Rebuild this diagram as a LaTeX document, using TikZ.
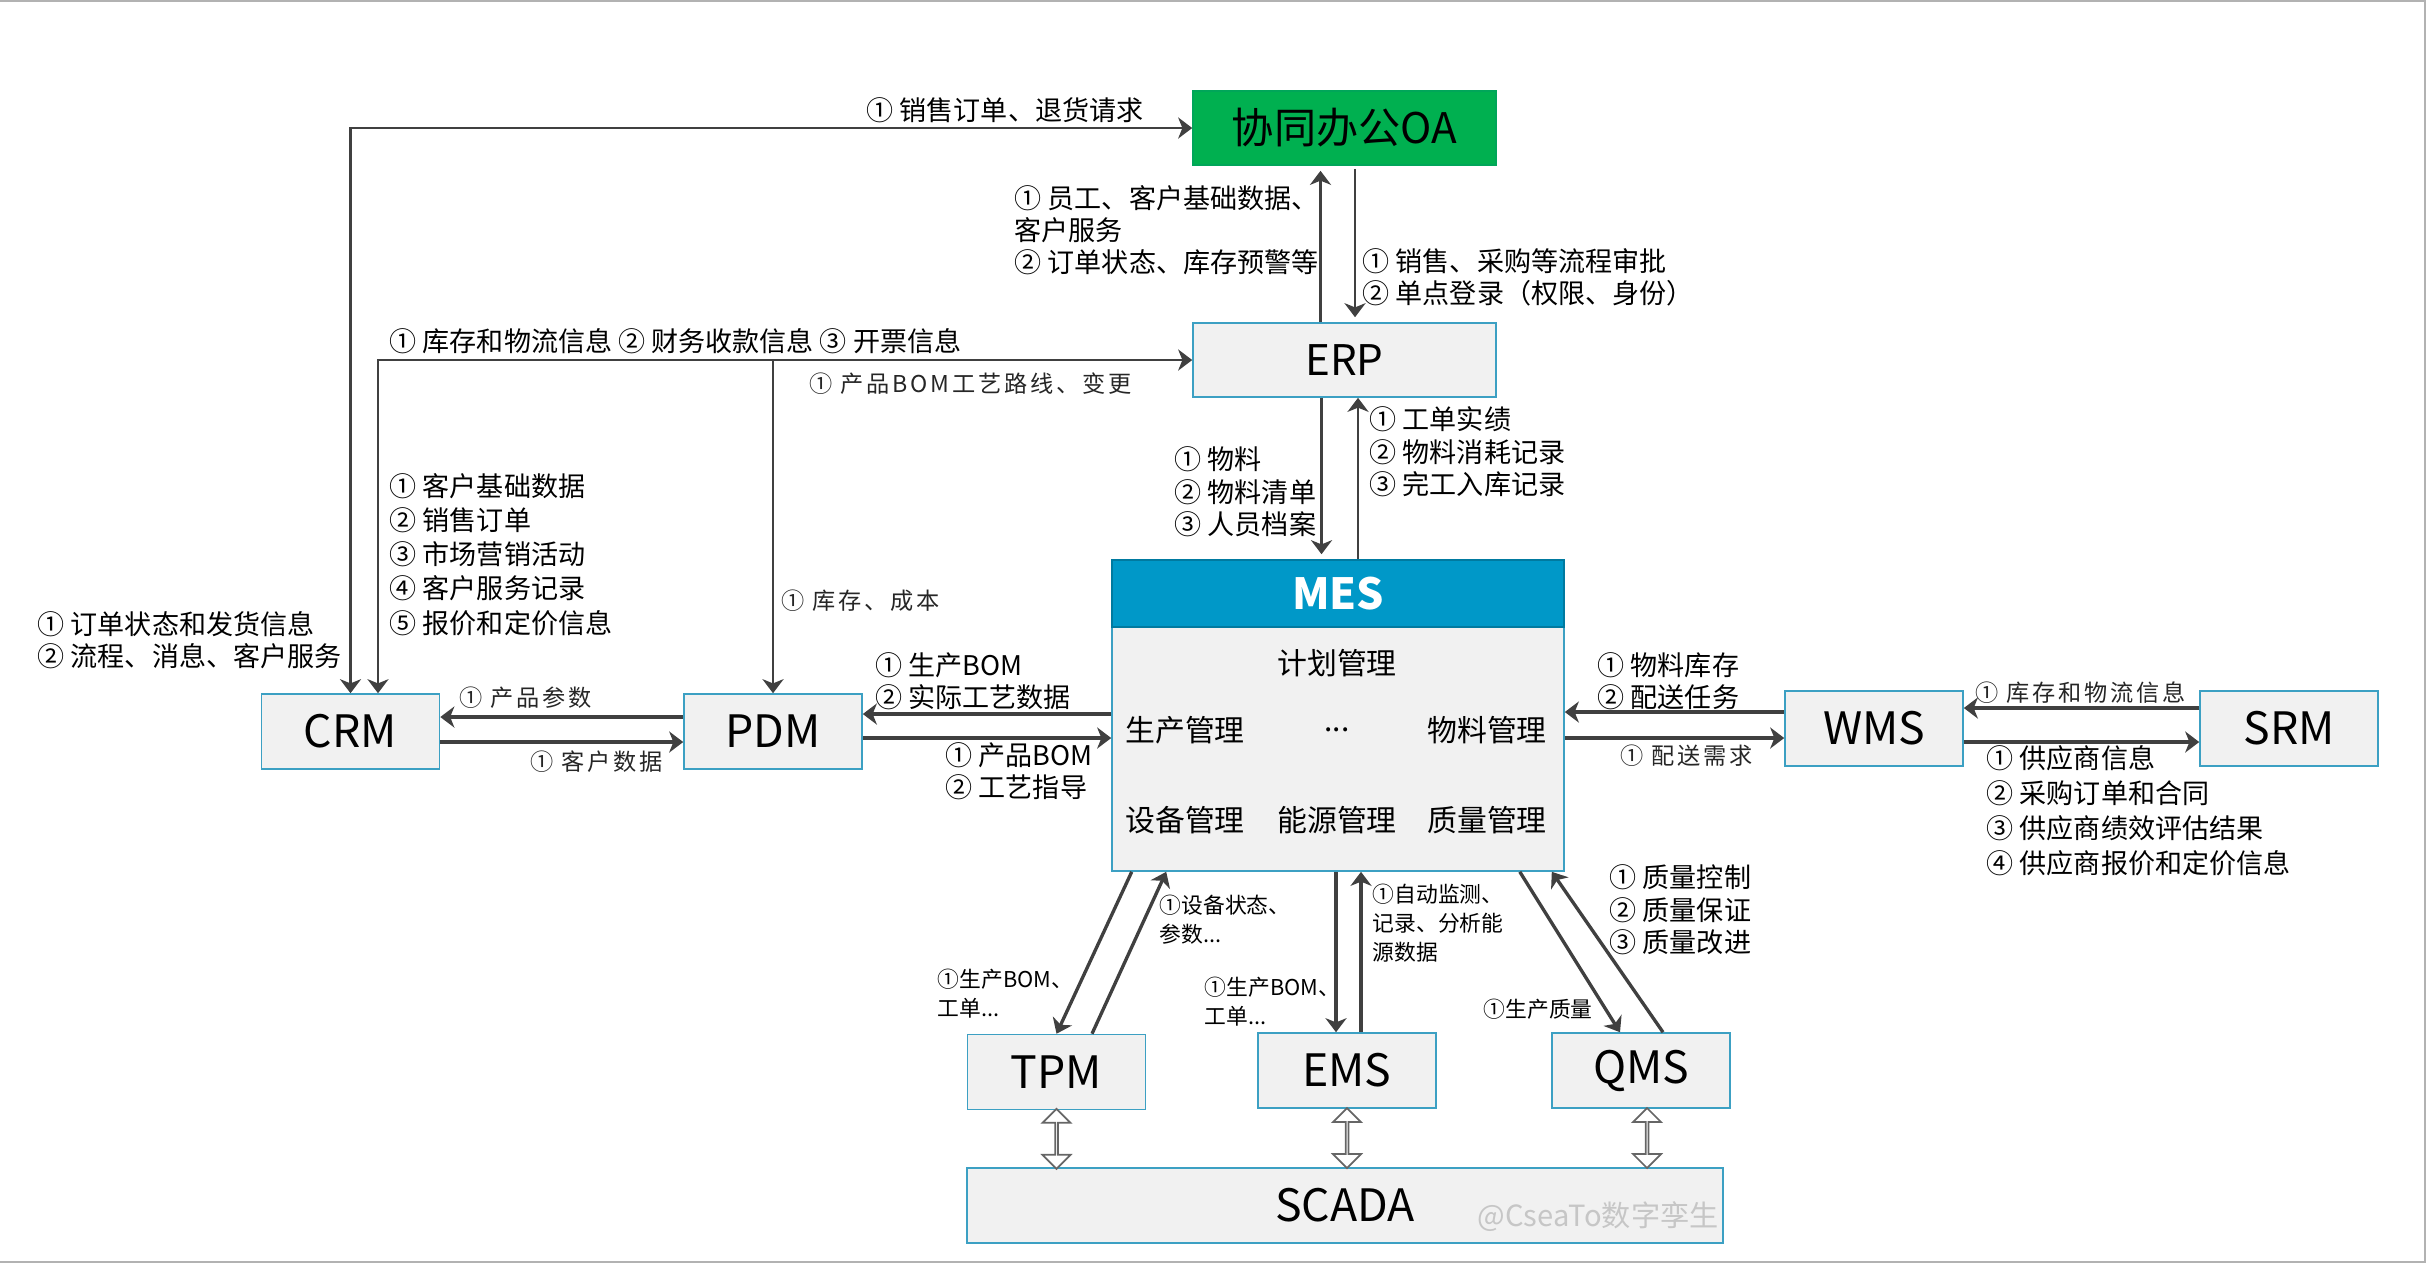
\documentclass[tikz,border=0pt]{standalone}
\usepackage{fontspec}
\setmainfont{Noto Sans CJK SC}
\newfontfamily\lightfont[LetterSpace=12]{Noto Sans CJK SC}
\usepackage{tikz}
\usetikzlibrary{calc, positioning, shapes.arrows, arrows.meta}

\definecolor{boxline}{RGB}{60,160,195}
\definecolor{boxfill}{RGB}{241,241,241}
\definecolor{mesblue}{RGB}{0,152,200}
\definecolor{oagreen}{RGB}{0,176,80}
\definecolor{linecol}{RGB}{64,64,64}

\begin{document}
\begin{tikzpicture}[
			sys/.style={draw=boxline, fill=boxfill, line width=0.45pt, minimum width=1.78cm, minimum height=0.75cm, font=\fontsize{12.7}{14}\selectfont},
			lbl/.style={align=left, inner sep=0pt, anchor=west, font=\fontsize{7.7}{9.2}\selectfont},
			lbllight/.style={inner sep=0pt, anchor=west, text=black!85, font=\lightfont\fontsize{6.6}{8}\selectfont},
			sml/.style={align=left, inner sep=0pt, anchor=west, font=\fontsize{6.2}{8.2}\selectfont},
			modul/.style={font=\fontsize{8.5}{10}\selectfont},
			arr/.style={draw=linecol, line width=0.95pt, ->},
			arrthin/.style={draw=linecol, line width=0.7pt},
			dblarr/.style={double arrow, draw=linecol!80, fill=white, line width=0.5pt, rotate=90, minimum height=0.6cm, minimum width=0.28cm, double arrow head extend=0.08cm, inner sep=0pt},
			>={Stealth[length=4pt, width=6pt, inset=1.2pt]},
			]
			\useasboundingbox (0,0) rectangle (24.26,-12.63);
			\draw[gray!60, line width=0.5pt] (0,-0.01) -- (24.25,-0.01) -- (24.25,-12.62) -- (0,-12.62);
			
			% Systeme
			\node[sys, fill=oagreen, draw=oagreen!80!teal, minimum width=3.03cm, minimum height=0.74cm, font=\fontsize{12}{14}\selectfont] (OA) at (13.445,-1.28) {协同办公OA};
			\node[sys, minimum width=3.03cm, minimum height=0.74cm, font=\fontsize{12}{14}\selectfont] (ERP) at (13.445,-3.60) {ERP};
			\node[sys, minimum width=4.52cm, minimum height=3.11cm] (MES) at (13.38,-7.155) {};
			\node[draw=mesblue!80!black, fill=mesblue, line width=0.45pt, minimum width=4.52cm, minimum height=0.67cm, anchor=north, text=white, font=\bfseries\fontsize{12.2}{14}\selectfont] (MEShead) at (MES.north) {MES};
			\node[sys] (CRM) at (3.505,-7.315) {CRM};
			\node[sys] (PDM) at (7.73,-7.315) {PDM};
			\node[sys] (WMS) at (18.74,-7.285) {WMS};
			\node[sys] (SRM) at (22.89,-7.285) {SRM};
			\node[sys] (TPM) at (10.565,-10.72) {TPM};
			\node[sys] (EMS) at (13.47,-10.705) {EMS};
			\node[sys] (QMS) at (16.41,-10.705) {QMS};
			\node[sys, minimum width=7.56cm] (SCADA) at (13.45,-12.055) {SCADA};
			\node[text=gray!45, font=\fontsize{8.3}{10}\selectfont, anchor=west, inner sep=0pt] (marke) at (14.77,-12.17) {@CseaTo数字孪生};
			
			% MES Module
			\node[modul] (plan) at (13.37,-6.63) {计划管理};
			\node[modul] (prod) at (11.85,-7.30) {生产管理};
			\node[modul] (more) at (13.37,-7.30) {...};
			\node[modul] (mat) at (14.87,-7.30) {物料管理};
			\node[modul] (equip) at (11.85,-8.20) {设备管理};
			\node[modul] (energy) at (13.37,-8.20) {能源管理};
			\node[modul] (qual) at (14.87,-8.20) {质量管理};
			
			% Verbindungen oben
			\draw[arrthin, <->] (CRM.north) |- (OA.west);
			\draw[arrthin, <->] ([xshift=2.75mm]CRM.north) |- (ERP.west);
			\draw[arrthin, ->] (PDM.north |- ERP.west) -- (PDM.north);
			\draw[arrthin, ->, shorten >=0.5mm] ([xshift=-2.4mm]ERP.north) -- ([xshift=-2.4mm]OA.south);
			\draw[arrthin, ->, shorten <=0.3mm, shorten >=0.5mm] ([xshift=1.05mm]OA.south) -- ([xshift=1.05mm]ERP.north);
			\draw[arrthin, ->, shorten >=0.5mm] ([xshift=-2.3mm]ERP.south) -- ([xshift=-2.3mm]ERP.south |- MES.north);
			\draw[arrthin, ->] ([xshift=1.35mm]ERP.south |- MES.north) -- ([xshift=1.35mm]ERP.south);
			
			% Verbindungen waagerecht
			\draw[arr] ([yshift=1.45mm]PDM.west) -- ([yshift=1.45mm]CRM.east);
			\draw[arr] ([yshift=-1.05mm]CRM.east) -- ([yshift=-1.05mm]PDM.west);
			\draw[arr] ([yshift=0.15mm]MES.west) -- ([yshift=0.15mm]MES.west -| PDM.east);
			\draw[arr] ([yshift=-2.25mm]MES.west -| PDM.east) -- ([yshift=-2.25mm]MES.west);
			\draw[arr] ([yshift=1.65mm]WMS.west) -- ([yshift=1.65mm]WMS.west -| MES.east);
			\draw[arr] ([yshift=-0.95mm]WMS.west -| MES.east) -- ([yshift=-0.95mm]WMS.west);
			\draw[arr] ([yshift=2.05mm]SRM.west) -- ([yshift=2.05mm]WMS.east);
			\draw[arr] ([yshift=-1.35mm]WMS.east) -- ([yshift=-1.35mm]SRM.west);
			
			% Verbindungen unten
			\draw[arr] ([xshift=2.05mm]MES.south west) -- (TPM.north);
			\draw[arr] ([xshift=3.55mm]TPM.north) -- ([xshift=5.5mm]MES.south west);
			\draw[arr] ([xshift=-1.1mm]EMS.north |- MES.south) -- ([xshift=-1.1mm]EMS.north);
			\draw[arr] ([xshift=1.4mm]EMS.north) -- ([xshift=1.4mm]EMS.north |- MES.south);
			\draw[arr] ([xshift=-4.5mm]MES.south east) -- ([xshift=-2.1mm]QMS.north);
			\draw[arr] ([xshift=2.2mm]QMS.north) -- ([xshift=-1.3mm]MES.south east);
			\node[dblarr] (TPMSCADA) at ($(TPM.south)!0.5!(TPM.south |- SCADA.north)$) {};
			\node[dblarr] (EMSSCADA) at ($(EMS.south)!0.5!(EMS.south |- SCADA.north)$) {};
			\node[dblarr] (QMSSCADA) at ($([xshift=0.6mm]QMS.south)!0.5!([xshift=0.6mm]QMS.south |- SCADA.north)$) {};
			
			% Beschriftungen
			\node[lbl, anchor=east] (l1) at (11.44,-1.10) {① 销售订单、退货请求};
			\node[lbl] (l2) at (10.14,-2.30) {① 员工、客户基础数据、\\客户服务\\② 订单状态、库存预警等};
			\node[lbl] (l3) at (13.62,-2.775) {① 销售、采购等流程审批\\② 单点登录（权限、身份）};
			\node[lbl] (l4) at (3.89,-3.41) {① 库存和物流信息 ② 财务收款信息 ③ 开票信息};
			\node[lbllight] (l5) at (8.09,-3.84) {① 产品BOM工艺路线、变更};
			\node[lbl] (l6) at (11.74,-4.92) {① 物料\\② 物料清单\\③ 人员档案};
			\node[lbl] (l7) at (13.69,-4.52) {① 工单实绩\\② 物料消耗记录\\③ 完工入库记录};
			\node[lbl, font=\fontsize{7.7}{9.7}\selectfont] (l8) at (3.89,-5.545) {① 客户基础数据\\② 销售订单\\③ 市场营销活动\\④ 客户服务记录\\⑤ 报价和定价信息};
			\node[lbl] (l9) at (0.37,-6.40) {① 订单状态和发货信息\\② 流程、消息、客户服务};
			\node[lbllight] (l10) at (7.81,-6.01) {① 库存、成本};
			\node[lbllight] (l11) at (4.585,-6.98) {① 产品参数};
			\node[lbllight] (l12) at (5.30,-7.62) {① 客户数据};
			\node[lbl] (l13) at (8.745,-6.815) {① 生产BOM\\② 实际工艺数据};
			\node[lbl] (l14) at (9.45,-7.71) {① 产品BOM\\② 工艺指导};
			\node[lbl] (l15) at (15.97,-6.81) {① 物料库存\\② 配送任务};
			\node[lbllight] (l16) at (16.20,-7.56) {① 配送需求};
			\node[lbllight] (l17) at (19.75,-6.93) {① 库存和物流信息};
			\node[lbl, font=\fontsize{7.7}{10}\selectfont] (l18) at (19.86,-8.105) {① 供应商信息\\② 采购订单和合同\\③ 供应商绩效评估结果\\④ 供应商报价和定价信息};
			\node[sml] (l19) at (9.37,-9.94) {①生产BOM、\\工单...};
			\node[sml] (l20) at (11.59,-9.20) {①设备状态、\\参数...};
			\node[sml] (l21) at (12.04,-10.02) {①生产BOM、\\工单...};
			\node[sml] (l22) at (13.72,-9.23) {①自动监测、\\记录、分析能\\源数据};
			\node[sml] (l23) at (14.83,-10.09) {①生产质量};
			\node[lbl] (l24) at (16.09,-9.10) {① 质量控制\\② 质量保证\\③ 质量改进};
			
		\end{tikzpicture}
\end{document}
